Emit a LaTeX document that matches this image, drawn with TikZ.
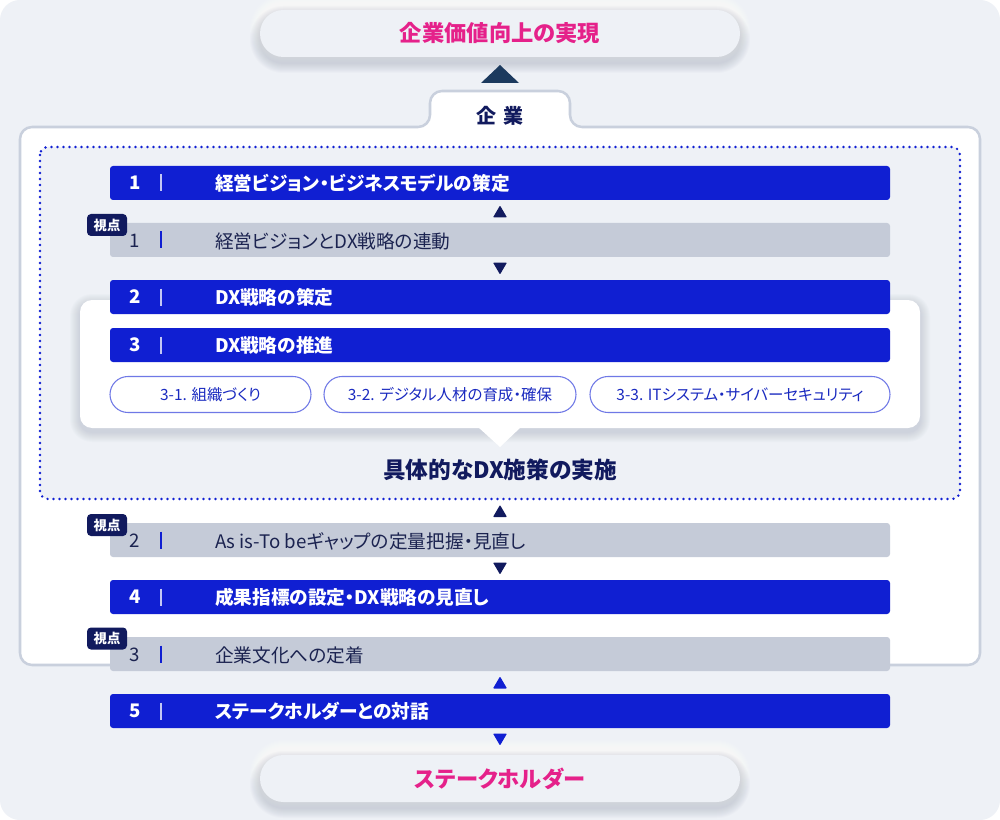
\documentclass[tikz,border=0pt]{standalone}
\usepackage{fontspec}
\setmainfont{Noto Sans CJK JP}[RawFeature=+palt]
\usetikzlibrary{calc}
\definecolor{bgc}{HTML}{EEF1F6}
\definecolor{barblue}{HTML}{101FD2}
\definecolor{navy}{HTML}{111A5E}
\definecolor{steel}{HTML}{1C3A5E}
\definecolor{graybar}{HTML}{C5CBD8}
\definecolor{graytext}{HTML}{1B2350}
\definecolor{pink}{HTML}{E5218A}
\definecolor{pillline}{HTML}{6F78E6}
\definecolor{pilltext}{HTML}{1A2AC0}
\definecolor{boxline}{HTML}{C9D0DD}
\definecolor{shadowc}{HTML}{8A93A8}
\tikzset{
  barbox/.style={minimum width=585pt, minimum height=25.5pt, rounded corners=2.25pt},
  bartext/.style={anchor=west},
  badge/.style={fill=navy, text=white, rounded corners=3pt, minimum width=30pt, minimum height=16.5pt, font=\bfseries\fontsize{10}{12}\selectfont},
  pill/.style={draw=pillline, line width=0.8pt, fill=white, rounded corners=13.5pt, minimum height=27pt, text=pilltext, font=\fontsize{11.6}{13}\selectfont},
  bigpill/.style={fill=bgc, rounded corners=17.6pt, minimum width=360pt, minimum height=35.25pt, text=pink, font=\bfseries\fontsize{16.7}{18}\selectfont},
}
\newcommand\softshade[8]{%
  \foreach \k in {1,...,10}{%
    \pgfmathsetmacro\rr{(#5+\k)*0.75}%
    \fill[#7, opacity=#8, rounded corners=\rr pt] (#1-\k,#2-\k+#6) rectangle (#3+\k,#4+\k+#6);
  }}
\newcommand\bluebar[4]{% name, y, num, text
  \node[barbox, fill=barblue] (#1) at (500,#2) {};
  \node[text=white, font=\bfseries\fontsize{14}{16}\selectfont] (#1n) at (135,#2) {#3};
  \draw[white!75!barblue, line width=0.8pt] ($(#1.west)+(51,-8.5)$) -- ($(#1.west)+(51,8.5)$);
  \node[bartext, text=white, font=\bfseries\fontsize{14}{16}\selectfont] (#1t) at (215,#2) {#4};
}
\newcommand\graybar[4]{% name, y, num, text
  \node[barbox, fill=graybar] (#1) at (500,#2) {};
  \node[text=graytext, font=\fontsize{14}{16}\selectfont] (#1n) at (135,#2+1) {#3};
  \draw[barblue, line width=0.8pt] ($(#1.west)+(51,-8.5)$) -- ($(#1.west)+(51,8.5)$);
  \node[bartext, text=graytext, font=\fontsize{14}{16}\selectfont] (#1t) at (215,#2+1) {#4};
}
\newcommand\uptri[2]{\fill[#1, rounded corners=0.6pt] ($(#2)+(0,-6)$) -- ($(#2)+(7,6)$) -- ($(#2)+(-7,6)$) -- cycle;}
\newcommand\downtri[2]{\fill[#1, rounded corners=0.6pt] ($(#2)+(0,6)$) -- ($(#2)+(7,-6)$) -- ($(#2)+(-7,-6)$) -- cycle;}
\begin{document}
\begin{tikzpicture}[x=0.75pt,y=-0.75pt, every node/.style={inner sep=0pt, outer sep=0pt}]
\useasboundingbox (0,0) rectangle (1000,820);
\fill[white] (0,0) rectangle (1000,820);
\fill[bgc, rounded corners=15pt] (0,0) rectangle (1000,820);

% top pill
\softshade{260}{10}{740}{57}{23.5}{-5}{white}{0.10}
\softshade{260}{10}{740}{57}{23.5}{6}{shadowc}{0.035}
\node[bigpill] (top) at (500,33.5) {企業価値向上の実現};
\fill[steel] ($(top.south)+(0,8)$) -- ($(top.south)+(19,26)$) -- ($(top.south)+(-19,26)$) -- cycle;

% main box with tab
\draw[draw=boxline, line width=1.9pt, fill=white, rounded corners=9pt]
  (20,127) -- (430,127) -- (430,91) -- (570,91) -- (570,127) -- (980,127) -- (980,665) -- (20,665) -- cycle;
\node[text=navy, font=\bfseries\fontsize{15}{17}\selectfont] (corp) at (500,116) {企\hspace{5pt}業};

% dotted region
\draw[barblue, fill=bgc, line width=2pt, line cap=round, dash pattern=on 0pt off 4.5pt, rounded corners=6pt] (40,147) rectangle (960,499);

% white card
\softshade{80}{300}{920}{428}{12}{4}{shadowc}{0.03}
\fill[white, rounded corners=9pt] (80,300) rectangle (920,428);
\fill[white] (478,427) -- (521,427) -- (500,447) -- cycle;

% bars
\bluebar{b1}{183}{1}{経営ビジョン・ビジネスモデルの策定}
\graybar{g1}{240}{1}{経営ビジョンとDX戦略の連動}
\bluebar{b2}{297}{2}{DX戦略の策定}
\bluebar{b3}{345}{3}{DX戦略の推進}
\graybar{g2}{540}{2}{As is-To beギャップの定量把握・見直し}
\bluebar{b4}{597}{4}{成果指標の設定・DX戦略の見直し}
\graybar{g3}{654}{3}{企業文化への定着}
\bluebar{b5}{711}{5}{ステークホルダーとの対話}

% badges
\node[badge] (v1) at (107,225) {視点};
\node[badge] (v2) at (107,525) {視点};
\node[badge] (v3) at (107,638.5) {視点};

% pills
\node[pill, minimum width=150.75pt] (p1) at (210.5,394.5) {3-1. 組織づくり};
\node[pill, minimum width=189pt] (p2) at (450,394.5) {3-2. デジタル人材の育成・確保};
\node[pill, minimum width=225pt] (p3) at (740,394.5) {3-3. ITシステム・サイバーセキュリティ};

% implementation label
\node[text=navy, font=\bfseries\fontsize{17}{19}\selectfont] (impl) at (500,470) {具体的なDX施策の実施};

% bottom pill
\softshade{260}{755}{740}{802}{23.5}{-5}{white}{0.10}
\softshade{260}{755}{740}{802}{23.5}{6}{shadowc}{0.035}
\node[bigpill] (stake) at (500,778.5) {ステークホルダー};

% arrows
\coordinate (a1) at ($(b1.south)!.5!(g1.north)$);
\coordinate (a2) at ($(g1.south)!.5!(b2.north)$);
\coordinate (a3) at ($(g2.north)+(0,-12)$);
\coordinate (a4) at ($(g2.south)!.5!(b4.north)$);
\coordinate (a5) at ($(g3.south)!.5!(b5.north)$);
\coordinate (a6) at ($(b5.south)+(0,11.5)$);
\uptri{navy}{a1}
\downtri{navy}{a2}
\uptri{navy}{a3}
\downtri{navy}{a4}
\uptri{barblue}{a5}
\downtri{barblue}{a6}
\end{tikzpicture}
\end{document}
